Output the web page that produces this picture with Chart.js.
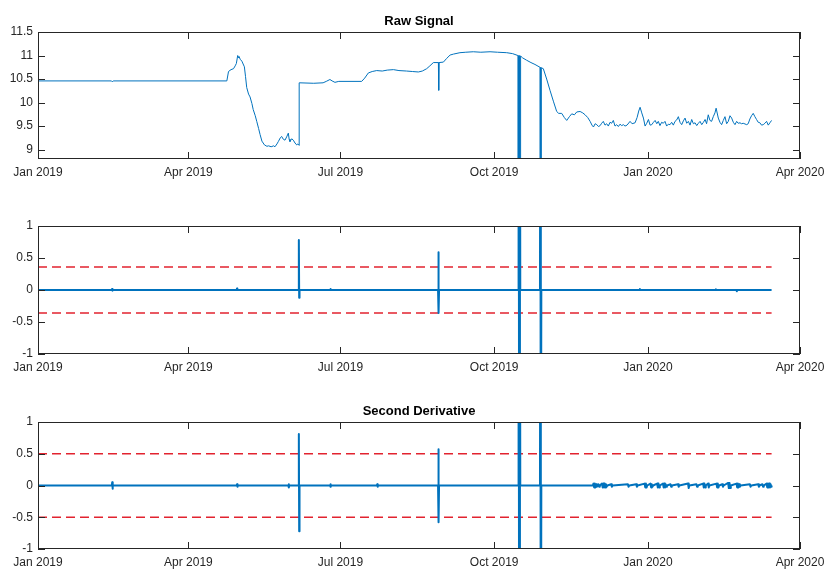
<!DOCTYPE html>
<html>
<head>
<meta charset="utf-8">
<script src="https://cdn.jsdelivr.net/npm/chart.js@4.4.1/dist/chart.umd.min.js"></script>
<style>
  body { margin: 0; background: #fff; }
  .panel { position: absolute; left: 0; width: 827px; height: 190px; }
</style>
</head>
<body>
<div class="panel" style="top:0px"><canvas id="rawChart" width="827" height="190"></canvas></div>
<div class="panel" style="top:190px"><canvas id="firstChart" width="827" height="190"></canvas></div>
<div class="panel" style="top:380px"><canvas id="secondChart" width="827" height="190"></canvas></div>
<script>
// x values are days since 1 Jan 2019
const xTickDays = [0, 90, 181, 273, 365, 456];
const xTickLabels = ['Jan 2019', 'Apr 2019', 'Jul 2019', 'Oct 2019', 'Jan 2020', 'Apr 2020'];
const rawTicks = [9, 9.5, 10, 10.5, 11, 11.5];
const derivTicks = [-1, -0.5, 0, 0.5, 1];

const rawDays = [
  0, 44, 44.5, 45, 113, 114, 115.5, 117, 118, 118.7, 119.5, 120, 120.3, 121, 122, 123.5, 124.2, 124.9,
  126, 126.9, 128, 128.8, 130, 130.9, 132, 132.9, 134, 135.5, 137, 138, 139.5, 141, 141.8, 143, 143.8,
  145, 145.8, 146.8, 147.8, 148.8, 149.8, 150.3, 150.8, 151.8, 152.8, 153.8, 154.8, 155.5, 156.2, 156.3,
  165, 170.6, 172.5, 174.7, 176, 177.7, 180, 193.7, 195.5, 197.7, 200, 202.7, 206, 209, 212.7, 216,
  220.6, 224, 227.6, 230, 232.6, 234.5, 236.6, 239.6, 239.8, 240, 242.6, 244.6, 246.6, 248.6, 252.5,
  256, 260.5, 265, 270.5, 275, 280.5, 284, 287.2, 287.3, 287.6, 287.9, 288.2, 288.5, 288.8, 290, 292.4,
  295, 297.4, 300.4, 300.5, 300.8, 301.1, 301.2, 302.4, 304.4, 306.4, 308.4, 310.4, 311.6, 313.4, 315, 316.4,
  318, 319.4, 321, 322.4, 324.4, 326, 327.4, 329, 330.4, 331.5, 332.4, 333.4, 334.4, 335.4, 336.4,
  337.3, 338.3, 339.3, 340.3, 341.3, 342.3, 343.3, 344.3, 345.3, 346.3, 347.3, 348.3, 349.3, 350.3,
  351.3, 352.5, 354.3, 355.5, 357.3, 358.5, 359.5, 360.3, 361.3, 362.3, 363.3, 364.3, 365.3, 366.3,
  367.3, 368.3, 369.3, 370.3, 371.2, 372.2, 373.2, 374.2, 375.2, 376.2, 377.2, 378.2, 379.2, 380.2,
  381.2, 382.2, 383.2, 384.2, 385.2, 386.2, 387.2, 388.2, 389.2, 390.2, 391.2, 392.2, 393.2, 394.2,
  395.2, 396.2, 397.2, 398.2, 399.2, 400.1, 401.1, 402.1, 403.1, 404.1, 405.1, 405.8, 407.1, 408.1,
  409.1, 410.1, 411.1, 412.1, 413.1, 414.1, 415.1, 416.1, 417.1, 418.1, 419, 420.1, 421, 422, 424.1,
  425, 426, 427, 428, 429, 430, 431, 432, 433, 434, 435, 436, 437, 438, 439
];
const rawValues = [
  10.46, 10.46, 10.44, 10.46, 10.46, 10.66, 10.70, 10.72, 10.78, 10.83, 11.0, 10.95, 10.98, 10.92, 10.88, 10.76, 10.55, 10.32,
  10.18, 10.12, 9.98, 9.85, 9.72, 9.60, 9.45, 9.32, 9.18, 9.10, 9.07, 9.08, 9.06, 9.08, 9.06, 9.12, 9.17,
  9.25, 9.28, 9.22, 9.20, 9.27, 9.35, 9.22, 9.17, 9.23, 9.20, 9.14, 9.10, 9.12, 9.09, 10.42,
  10.41, 10.42, 10.45, 10.49, 10.46, 10.43, 10.45, 10.45, 10.52, 10.63, 10.66, 10.68, 10.67, 10.69, 10.70, 10.68,
  10.67, 10.66, 10.65, 10.67, 10.72, 10.78, 10.85, 10.85, 10.26, 10.85, 10.86, 10.94, 11.01, 11.03, 11.06,
  11.07, 11.08, 11.07, 11.08, 11.07, 11.06, 11.04, 11.00, 0, 11.00, 0, 11.00, 0, 10.99, 10.95, 10.90,
  10.85, 10.81, 10.75, 0, 10.75, 0, 10.74, 10.72, 10.50, 10.26, 10.03, 9.81, 9.77, 9.77, 9.68, 9.62,
  9.70, 9.76, 9.74, 9.80, 9.81, 9.78, 9.74, 9.68, 9.60, 9.52, 9.48, 9.55, 9.53, 9.49, 9.51,
  9.56, 9.60, 9.52, 9.55, 9.50, 9.58, 9.56, 9.62, 9.50, 9.53, 9.49, 9.54, 9.51, 9.53,
  9.50, 9.52, 9.60, 9.55, 9.57, 9.68, 9.82, 9.90, 9.78, 9.67, 9.50, 9.56, 9.64, 9.52,
  9.53, 9.58, 9.62, 9.55, 9.60, 9.51, 9.58, 9.56, 9.60, 9.50, 9.54, 9.53, 9.58, 9.52,
  9.60, 9.63, 9.70, 9.58, 9.53, 9.61, 9.67, 9.56, 9.60, 9.52, 9.64, 9.55, 9.57, 9.51,
  9.56, 9.60, 9.53, 9.58, 9.64, 9.55, 9.74, 9.62, 9.60, 9.70, 9.78, 9.88, 9.67, 9.58,
  9.53, 9.62, 9.70, 9.55, 9.60, 9.72, 9.67, 9.58, 9.53, 9.60, 9.56, 9.57, 9.55, 9.56, 9.53,
  9.55, 9.65, 9.72, 9.77, 9.70, 9.64, 9.58, 9.57, 9.52, 9.53, 9.56, 9.60, 9.52, 9.57, 9.62
];

const firstDays = [
  0, 44.1, 44.3, 44.5, 44.7, 118.9, 119.1, 119.3, 155.9, 156.1, 156.3, 156.5, 174.8, 175, 175.2,
  239.4, 239.6, 239.8, 240, 287.4, 287.6, 288, 288.4, 288.6, 300.4, 300.6, 300.9, 301.2,
  360, 360.2, 360.4, 405.5, 405.7, 405.9, 418, 418.2, 418.4, 439
];
const firstValues = [
  0, 0, 0.015, -0.01, 0, 0, 0.025, 0, 0, 0.78, -0.12, 0, 0, 0.015, 0,
  0, 0.59, -0.36, 0, 0, 5, -5, 5, 0, 0, 5, -5, 0,
  0, 0.015, 0, 0, 0.01, 0, 0, -0.02, 0, 0
];

const secondDays = [
  0, 44.2, 44.4, 44.6, 44.8, 118.9, 119.1, 119.3, 119.5, 149.8, 150, 150.2, 150.4,
  155.9, 156.1, 156.3, 156.5, 174.8, 175, 175.2, 175.4, 202.8, 203, 203.2, 203.4,
  239.4, 239.6, 239.8, 240, 287.4, 287.6, 288, 288.4, 288.6, 300.4, 300.6, 300.9, 301.2,
  332, 332.4, 332.8, 333.2, 333.6, 334, 334.4, 334.8, 335.4, 335.8, 336.2,
  337.5, 337.9, 338.3, 338.7, 339.1, 339.5, 339.9, 340.3, 340.7, 343, 343.4, 343.8,
  353, 353.4, 353.8, 358, 358.4, 358.8, 363, 363.4, 363.8, 364.2, 364.6,
  366.5, 366.9, 367.3, 367.7, 368.1, 370.5, 370.9, 371.3, 371.7, 372.1,
  374, 374.4, 374.8, 375.2, 375.6, 376, 376.4, 378.5, 378.9, 379.3, 383, 383.4, 383.8,
  389, 389.4, 389.8, 394, 394.4, 394.8, 398, 398.4, 398.8, 399.2, 399.6, 401, 401.4, 401.8,
  406, 406.4, 406.8, 407.2, 407.6, 409.5, 409.9, 410.3, 413, 413.4, 413.8, 414.2, 414.6,
  418, 418.4, 418.8, 419.2, 419.6, 420, 420.4, 426, 426.4, 426.8, 431, 431.4, 431.8,
  433.5, 433.9, 434.3, 436, 436.4, 436.8, 437.2, 437.6, 438, 438.4, 438.8, 439
];
const secondValues = [
  0, 0, 0.05, -0.05, 0, 0, 0.02, -0.02, 0, 0, 0.02, -0.03, 0,
  0, 0.81, -0.72, 0, 0, 0.02, -0.02, 0, 0, 0.02, -0.02, 0,
  0, 0.57, -0.58, 0, 0, 5, -5, 5, 0, 0, 5, -5, 0,
  0, 0.03, -0.03, 0.03, -0.03, 0.02, -0.02, 0, 0.02, -0.02, 0,
  0.03, -0.03, 0.03, -0.03, 0.03, -0.03, 0.02, -0.02, 0, 0.02, -0.02, 0,
  0.02, -0.02, 0, 0.02, -0.02, 0, 0.03, -0.03, 0.03, -0.03, 0,
  0.03, -0.03, 0.02, -0.02, 0, 0.03, -0.03, 0.03, -0.03, 0,
  0.03, -0.03, 0.03, -0.03, 0.02, -0.02, 0, 0.02, -0.02, 0, 0.02, -0.02, 0,
  0.03, -0.04, 0, 0.02, -0.02, 0, 0.03, -0.03, 0.03, -0.03, 0, 0.03, -0.03, 0,
  0.03, -0.03, 0.03, -0.03, 0, 0.02, -0.02, 0, 0.04, -0.04, 0.04, -0.04, 0,
  0.03, -0.03, 0.03, -0.03, 0.02, -0.02, 0, 0.02, -0.02, 0, 0.02, -0.02, 0,
  0.02, -0.02, 0, 0.03, -0.03, 0.03, -0.03, 0.03, -0.03, 0.02, -0.02, 0
];

const thresholdDays = [0, 439];
const firstLimit = 0.36;
const secondLimit = 0.5;

const blue = '#0072BD';
const red = '#E2232F';
const axisColor = '#262626';
const fontFamily = '"Liberation Sans", Arial, Helvetica, sans-serif';

function toPoints(xs, ys) {
  return xs.map((x, i) => ({ x: x, y: ys[i] }));
}

function signalLine(xs, ys, width) {
  return {
    data: toPoints(xs, ys),
    borderColor: blue,
    borderWidth: width,
    borderJoinStyle: 'round',
    pointRadius: 0,
    fill: false
  };
}

function limitLine(value) {
  return {
    data: thresholdDays.map(d => ({ x: d, y: value })),
    borderColor: red,
    borderWidth: 1.5,
    borderDash: [9, 5],
    pointRadius: 0,
    fill: false
  };
}

// matlab-like box with inward ticks, plus the title above the axes
const axesBox = {
  id: 'axesBox',
  afterDatasetsDraw(chart, args, opts) {
    const { ctx, chartArea: a, scales } = chart;
    const xs = scales.x, ys = scales.y;
    const len = 7;
    ctx.save();
    ctx.strokeStyle = axisColor;
    ctx.lineWidth = 1;
    ctx.strokeRect(a.left + 0.5, a.top + 0.5, a.right - a.left - 1, a.bottom - a.top - 1);
    ctx.beginPath();
    xs.ticks.forEach(t => {
      const px = Math.round(xs.getPixelForValue(t.value)) + 0.5;
      ctx.moveTo(px, a.bottom);
      ctx.lineTo(px, a.bottom - len);
      ctx.moveTo(px, a.top);
      ctx.lineTo(px, a.top + len);
    });
    ys.ticks.forEach(t => {
      const py = Math.round(ys.getPixelForValue(t.value)) + 0.5;
      ctx.moveTo(a.left, py);
      ctx.lineTo(a.left + len, py);
      ctx.moveTo(a.right, py);
      ctx.lineTo(a.right - len, py);
    });
    ctx.stroke();
    if (opts.title) {
      ctx.fillStyle = '#000';
      ctx.font = 'bold 13px ' + fontFamily;
      ctx.textAlign = 'center';
      ctx.textBaseline = 'middle';
      ctx.fillText(opts.title, (a.left + a.right) / 2, a.top - 11);
    }
    ctx.restore();
  }
};

function makePanel(id, datasets, yTicks, yMin, yMax, topPad, xHeight, title) {
  return new Chart(document.getElementById(id), {
    type: 'line',
    data: { datasets: datasets },
    options: {
      responsive: false,
      animation: false,
      events: [],
      layout: { padding: { top: topPad, right: 27, left: 0, bottom: 0 } },
      plugins: {
        legend: { display: false },
        tooltip: { enabled: false },
        axesBox: { title: title }
      },
      elements: { line: { tension: 0 }, point: { radius: 0 } },
      scales: {
        x: {
          type: 'linear',
          min: 0,
          max: 456,
          afterBuildTicks: s => { s.ticks = xTickDays.map(v => ({ value: v })); },
          afterFit: s => { s.height = xHeight; s.paddingLeft = 0; s.paddingRight = 0; },
          grid: { display: false, drawTicks: false },
          border: { display: false },
          ticks: {
            autoSkip: false,
            maxRotation: 0,
            padding: 6,
            color: axisColor,
            font: { family: fontFamily, size: 12 },
            callback: (v, i) => xTickLabels[i]
          }
        },
        y: {
          min: yMin,
          max: yMax,
          afterBuildTicks: s => { s.ticks = yTicks.map(v => ({ value: v })); },
          afterFit: s => { s.width = 38; },
          grid: { display: false, drawTicks: false },
          border: { display: false },
          ticks: {
            padding: 5,
            color: axisColor,
            font: { family: fontFamily, size: 12 },
            callback: v => String(v)
          }
        }
      }
    },
    plugins: [axesBox]
  });
}

makePanel('rawChart', [
  signalLine(rawDays, rawValues, 1)
], rawTicks, 8.8, 11.5, 32, 31, 'Raw Signal');

makePanel('firstChart', [
  signalLine(firstDays, firstValues, 2),
  limitLine(firstLimit),
  limitLine(-firstLimit)
], derivTicks, -1, 1, 36, 26, '');

makePanel('secondChart', [
  signalLine(secondDays, secondValues, 2),
  limitLine(secondLimit),
  limitLine(-secondLimit)
], derivTicks, -1, 1, 42, 21, 'Second Derivative');
</script>
</body>
</html>
